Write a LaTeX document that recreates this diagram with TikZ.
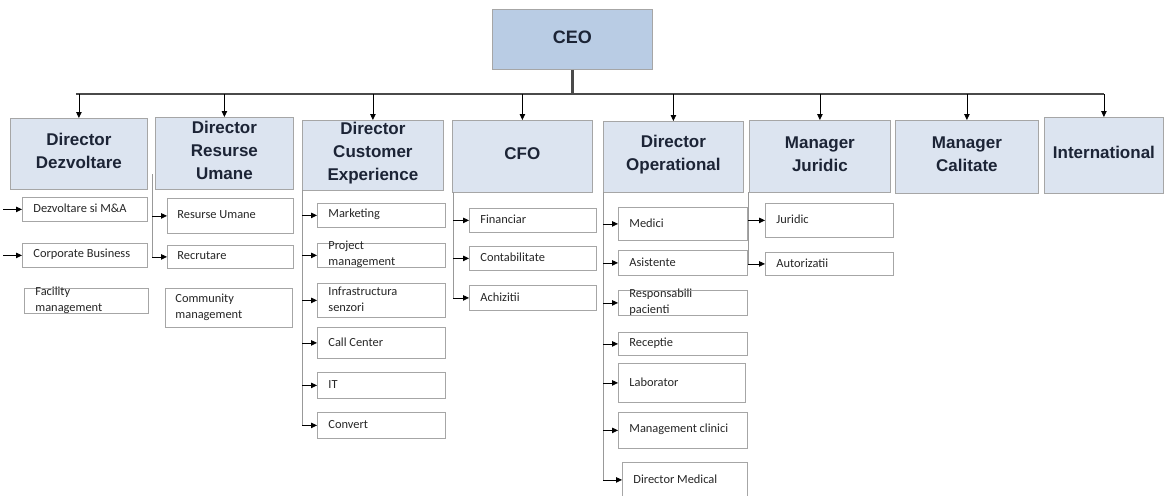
\documentclass[tikz,border=0pt]{standalone}
\usepackage{fontspec}
\setmainfont{Liberation Sans}
\newfontfamily\subfont{Carlito}
\usetikzlibrary{arrows.meta,calc}
\definecolor{dirfill}{HTML}{DCE4F0}
\definecolor{ceofill}{HTML}{B9CCE4}
\definecolor{boxline}{HTML}{A6A6A6}
\definecolor{dirtext}{HTML}{1C2436}
\definecolor{subtext}{HTML}{262626}
\definecolor{busline}{HTML}{4A4A4A}
\newcommand{\dtext}[2]{\smash{\parbox[c]{#1pt}{\centering\fontsize{17}{23}\selectfont\bfseries #2}}}
\newcommand{\stext}[2]{\smash{\raisebox{-1.5pt}{\parbox[c]{#1pt}{\raggedright\subfont\fontsize{12.4}{16}\selectfont #2}}}}
% box by corners: name, x1, y1, x2, y2, style, content
\newcommand{\cbox}[7]{%
  \node[#6, minimum width={(#4-#2)*1pt}, minimum height={(#5-#3)*1pt}, anchor=north west] (#1) at (#2,#3) {#7};}
\begin{document}
\begin{tikzpicture}[x=1pt,y=-1pt,
  dirbox/.style={draw=boxline, line width=0.8pt, fill=dirfill, inner sep=0pt, text=dirtext},
  ceobox/.style={draw=boxline, line width=0.8pt, fill=ceofill, inner sep=0pt, text=dirtext},
  subbox/.style={draw=boxline, line width=0.8pt, fill=white, inner sep=0pt, text=subtext},
  arr/.style={-{Triangle[length=6pt,width=5.5pt]}, line width=0.8pt, black},
  vline/.style={draw=gray!80, line width=0.8pt},
  busstyle/.style={draw=busline, line width=2.4pt}]
\useasboundingbox (0,0) rectangle (1166,495);
% CEO
\cbox{ceo}{492}{9}{652}{69}{ceobox}{\smash{\parbox[c]{140pt}{\centering\fontsize{18}{22}\selectfont\bfseries CEO}}}
% Directors
\cbox{dezv}{10}{118}{147}{189}{dirbox}{\dtext{130}{Director\\Dezvoltare}}
\cbox{ru}{155}{117}{293}{189}{dirbox}{\dtext{130}{Director\\Resurse\\Umane}}
\cbox{cx}{302}{120}{443}{190}{dirbox}{\dtext{135}{Director\\Customer\\Experience}}
\cbox{cfo}{452}{120}{592}{192}{dirbox}{\dtext{130}{CFO}}
\cbox{op}{603}{121}{743}{192}{dirbox}{\dtext{135}{Director\\Operational}}
\cbox{jur}{749}{120}{890}{192}{dirbox}{\dtext{135}{Manager\\Juridic}}
\cbox{cal}{895}{120}{1038}{193}{dirbox}{\dtext{135}{Manager\\Calitate}}
\cbox{intl}{1044}{117}{1163}{193}{dirbox}{\dtext{118}{International}}
% Bus
\coordinate (bus) at (572,94);
\draw[busstyle] (ceo.south) -- (ceo.south |- bus);
\draw[busstyle] ([xshift=-3pt]dezv.north |- bus) -- (intl.north |- bus);
\foreach \d in {dezv,ru,cx,cfo,op,jur,cal,intl}
  \draw[arr] (\d.north |- bus) -- (\d.north);
% Dezvoltare column
\cbox{dsma}{22}{197}{147}{221}{subbox}{\stext{103}{Dezvoltare si M\&A}}
\cbox{corp}{22}{243}{147}{267}{subbox}{\stext{103}{Corporate Business}}
\cbox{fac}{24}{288}{148}{313}{subbox}{\stext{102}{Facility\\management}}
\coordinate (dl) at (3,190);
\foreach \b in {dsma,corp} \draw[arr] (dl |- \b.west) -- (\b.west);
% Resurse Umane column
\cbox{rum}{167}{198}{293}{233}{subbox}{\stext{106}{Resurse Umane}}
\cbox{rec}{167}{245}{293}{268}{subbox}{\stext{106}{Recrutare}}
\cbox{com}{165}{288}{292}{327}{subbox}{\stext{107}{Community\\management}}
\coordinate (rutop) at (152,174);
\coordinate (rubot) at (152,257);
\draw[vline] (rutop) -- (rubot);
\foreach \b in {rum,rec} \draw[arr] (rutop |- \b.west) -- (\b.west);
% Customer Experience column
\cbox{mk}{317}{203}{445}{227}{subbox}{\stext{106}{Marketing}}
\cbox{pm}{317}{243}{445}{267}{subbox}{\stext{106}{Project\\management}}
\cbox{inf}{317}{283}{445}{317}{subbox}{\stext{106}{Infrastructura\\senzori}}
\cbox{cc}{317}{327}{445}{358}{subbox}{\stext{106}{Call Center}}
\cbox{it}{317}{372}{445}{398}{subbox}{\stext{106}{IT}}
\cbox{conv}{317}{412}{445}{438}{subbox}{\stext{106}{Convert}}
\coordinate (cxtop) at (302,190);
\draw[vline] (cxtop) -- (cxtop |- conv.west);
\foreach \b in {mk,pm,inf,cc,it,conv} \draw[arr] (cxtop |- \b.west) -- (\b.west);
% CFO column
\cbox{fin}{469}{208}{596}{232}{subbox}{\stext{105}{Financiar}}
\cbox{cont}{469}{246}{596}{270}{subbox}{\stext{105}{Contabilitate}}
\cbox{ach}{469}{285}{596}{310}{subbox}{\stext{105}{Achizitii}}
\coordinate (cftop) at (453,192);
\draw[vline] (cftop) -- (cftop |- ach.west);
\foreach \b in {fin,cont,ach} \draw[arr] (cftop |- \b.west) -- (\b.west);
% Operational column
\cbox{med}{618}{207}{747}{240}{subbox}{\stext{107}{Medici}}
\cbox{asi}{618}{250}{747}{275}{subbox}{\stext{107}{Asistente}}
\cbox{resp}{618}{290}{747}{315}{subbox}{\stext{107}{Responsabili\\pacienti}}
\cbox{rcp}{618}{332}{747}{355}{subbox}{\stext{107}{Receptie}}
\cbox{lab}{618}{363}{745}{402}{subbox}{\stext{105}{Laborator}}
\cbox{mgc}{618}{412}{747}{448}{subbox}{\stext{107}{Management clinici}}
\cbox{dmed}{622}{462}{747}{497}{subbox}{\stext{103}{Director Medical}}
\coordinate (optop) at (603,192);
\draw[vline] (optop) -- (optop |- dmed.west);
\foreach \b in {med,asi,resp,rcp,lab,mgc,dmed} \draw[arr] (optop |- \b.west) -- (\b.west);
% Juridic column
\cbox{jd}{765}{203}{893}{237}{subbox}{\stext{106}{Juridic}}
\cbox{aut}{765}{252}{893}{275}{subbox}{\stext{106}{Autorizatii}}
\coordinate (jtop) at (748,192);
\draw[vline] (jtop) -- (jtop |- aut.west);
\foreach \b in {jd,aut} \draw[arr] (jtop |- \b.west) -- (\b.west);
\end{tikzpicture}
\end{document}
